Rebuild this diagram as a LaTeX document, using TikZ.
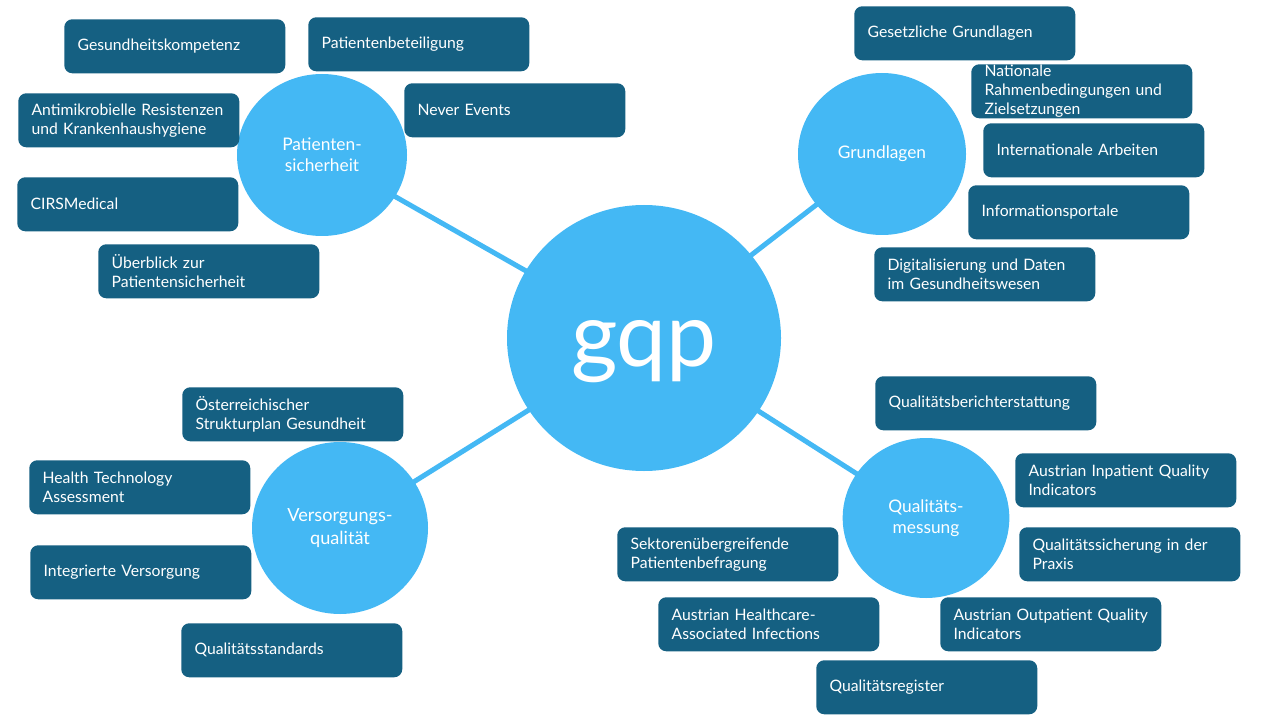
\documentclass[tikz,border=0pt]{standalone}
\usepackage{fontspec}
\setmainfont{Lato}
\usetikzlibrary{shapes.geometric,backgrounds}
\definecolor{boxc}{HTML}{156082}
\definecolor{circc}{HTML}{44B8F4}
\tikzset{
  x=0.75pt, y=-0.75pt,
  topic/.style={anchor=north west, fill=boxc, rounded corners=6pt, text=white,
    minimum width=165.75pt, minimum height=40.5pt, inner xsep=10pt, inner ysep=0pt,
    text width=145.75pt, align=left, font=\fontsize{11.8}{14.3}\selectfont},
  hub/.style={ellipse, fill=circc, text=white, align=center, inner sep=0pt,
    font=\fontsize{13}{16}\selectfont},
  link/.style={draw=circc, line width=3.75pt}
}
\begin{document}
\begin{tikzpicture}
\useasboundingbox (0,0) rectangle (1280,720);
% centre and hubs
\node[hub, minimum width=205.5pt, minimum height=199.5pt] (gqp) at (644,338) {};
\node[text=white, inner sep=0pt, font=\fontsize{67}{68}\selectfont] (gqptext) at (644,352) {gqp};
\node[hub, minimum width=127.5pt, minimum height=121.5pt] (ps) at (322,155) {Patienten-\\sicherheit};
\node[hub, minimum width=126pt, minimum height=121.5pt] (gl) at (882,154) {Grundlagen};
\node[hub, minimum width=132pt, minimum height=129pt, font=\fontsize{13.6}{17}\selectfont] (vq) at (340,528) {Versorgungs-\\qualität};
\node[hub, minimum width=125pt, minimum height=120pt] (qm) at (926,518) {Qualitäts-\\messung};
% connectors behind the hubs
\begin{scope}[on background layer]
\draw[link] (gqp.center) -- (ps.center);
\draw[link] (gqp.center) -- (gl.center);
\draw[link] (gqp.center) -- (vq.center);
\draw[link] (gqp.center) -- (qm.center);
\end{scope}
% Patientensicherheit
\node[topic] (ps1) at (64,19) {Gesundheitskompetenz};
\node[topic] (ps2) at (308,17) {Patientenbeteiligung};
\node[topic] (ps3) at (18,93) {Antimikrobielle Resistenzen\\und Krankenhaushygiene};
\node[topic] (ps4) at (404,83) {Never Events};
\node[topic] (ps5) at (17,177) {CIRSMedical};
\node[topic] (ps6) at (98,244) {Überblick zur\\Patientensicherheit};
% Grundlagen
\node[topic] (gl1) at (854,6) {Gesetzliche Grundlagen};
\node[topic] (gl2) at (971,64) {Nationale\\Rahmenbedingungen und\\Zielsetzungen};
\node[topic] (gl3) at (983,123) {Internationale Arbeiten};
\node[topic] (gl4) at (968,185) {Informationsportale};
\node[topic] (gl5) at (874,247) {Digitalisierung und Daten\\im Gesundheitswesen};
% Versorgungsqualitaet
\node[topic] (vq1) at (182,387) {Österreichischer\\Strukturplan Gesundheit};
\node[topic] (vq2) at (29,460) {Health Technology\\Assessment};
\node[topic] (vq3) at (30,545) {Integrierte Versorgung};
\node[topic] (vq4) at (181,623) {Qualitätsstandards};
% Qualitaetsmessung
\node[topic] (qm1) at (875,376) {Qualitätsberichterstattung};
\node[topic] (qm2) at (1015,453) {Austrian Inpatient Quality\\Indicators};
\node[topic] (qm3) at (1019,527) {Qualitätssicherung in der\\Praxis};
\node[topic] (qm4) at (617,527) {Sektorenübergreifende\\Patientenbefragung};
\node[topic] (qm5) at (658,597) {Austrian Healthcare-\\Associated Infections};
\node[topic] (qm6) at (940,597) {Austrian Outpatient Quality\\Indicators};
\node[topic] (qm7) at (816,660) {Qualitätsregister};
\end{tikzpicture}
\end{document}
